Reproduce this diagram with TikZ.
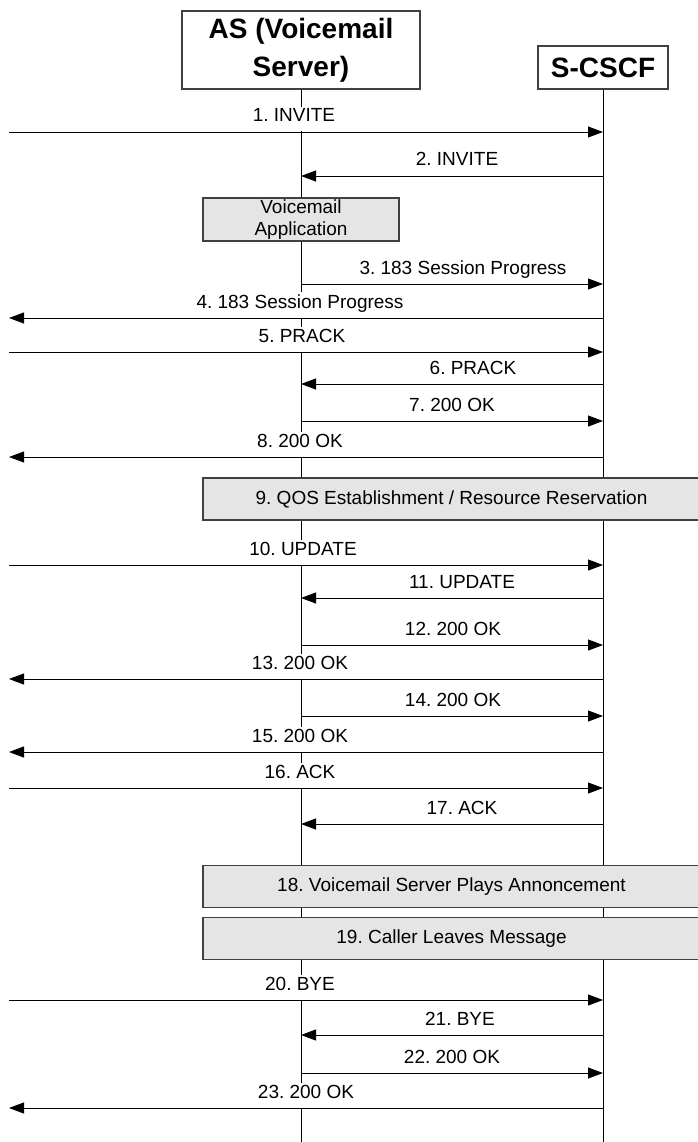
\documentclass[tikz,border=0pt]{standalone}
\usepackage{fontspec}
\setmainfont{Liberation Sans}
\usetikzlibrary{arrows.meta}
\frenchspacing
\newcommand\Msg[6]{%
  \coordinate (m#1a) at (#2,#4);
  \coordinate (m#1b) at (#3,#4);
  \draw[msg] (m#1a) -- (m#1b);
  \node[lbl] (l#1) at (#5,#4-10) {#6};}
\begin{document}
\begin{tikzpicture}[x=1pt,y=-1pt,
  msg/.style={line width=0.9pt,draw=black,-{Triangle[length=15pt,width=11pt]}},
  lbl/.style={fill=white,inner sep=2pt,text depth=7.5pt,anchor=base,font=\fontsize{19}{21}\selectfont},
  head/.style={draw=black!75,line width=1.2pt,fill=white,font=\fontsize{28}{38}\selectfont\bfseries,align=center,inner sep=0pt},
  proc/.style={draw=black!75,line width=1.2pt,fill=black!10,font=\fontsize{19}{22}\selectfont,align=center,inner sep=0pt},
  life/.style={line width=0.9pt,draw=black}]
\useasboundingbox (0,0) rectangle (697,1142);
% headers
\node[head,minimum width=238pt,minimum height=78pt] (as) at (301,50) {AS (Voicemail\\Server)};
\node[head,minimum width=130pt,minimum height=43pt] (sc) at (603,67.5) {S-CSCF};
% lifelines
\coordinate (asend) at (301,1142);
\coordinate (scend) at (603,1142);
\draw[life] (as.south) -- (asend);
\draw[life] (sc.south) -- (scend);
% process boxes
\node[proc,minimum width=196pt,minimum height=43pt] (va) at (301,219.5) {Voicemail\\Application};
\node[proc,minimum width=497pt,minimum height=42pt] (qos) at (451.5,499) {9. QOS Establishment / Resource Reservation};
\node[proc,minimum width=497pt,minimum height=42pt] (ann) at (451.5,886.5) {18. Voicemail Server Plays Annoncement};
\node[proc,minimum width=497pt,minimum height=42pt] (msgbox) at (451.5,938.5) {19. Caller Leaves Message};
% messages
\Msg{1}{9}{603}{132}{294}{1. INVITE}
\Msg{2}{603}{301}{176}{457}{2. INVITE}
\Msg{3}{301}{603}{284}{463}{3. 183 Session Progress}
\Msg{4}{603}{9}{318}{300}{4. 183 Session Progress}
\Msg{5}{9}{603}{352}{302}{5. PRACK}
\Msg{6}{603}{301}{384}{473}{6. PRACK}
\Msg{7}{301}{603}{421}{452}{7. 200 OK}
\Msg{8}{603}{9}{457}{300}{8. 200 OK}
\Msg{10}{9}{603}{565}{303}{10. UPDATE}
\Msg{11}{603}{301}{598}{462}{11. UPDATE}
\Msg{12}{301}{603}{645}{453}{12. 200 OK}
\Msg{13}{603}{9}{679}{300}{13. 200 OK}
\Msg{14}{301}{603}{716}{453}{14. 200 OK}
\Msg{15}{603}{9}{752}{300}{15. 200 OK}
\Msg{16}{9}{603}{788}{300}{16. ACK}
\Msg{17}{603}{301}{824}{462}{17. ACK}
\Msg{20}{9}{603}{1000}{300}{20. BYE}
\Msg{21}{603}{301}{1035}{460}{21. BYE}
\Msg{22}{301}{603}{1073}{452}{22. 200 OK}
\Msg{23}{603}{9}{1108}{306}{23. 200 OK}
\end{tikzpicture}
\end{document}
